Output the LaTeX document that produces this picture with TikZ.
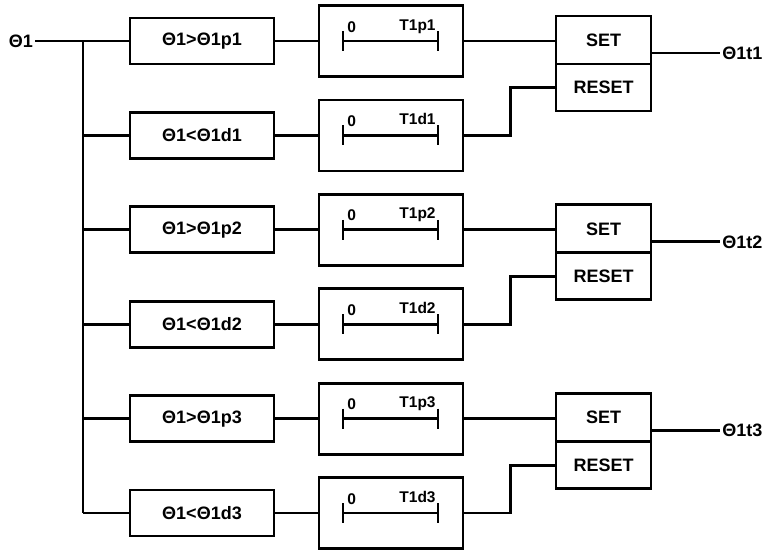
\documentclass[tikz,border=0pt]{standalone}
\usepackage{fontspec}
\setmainfont{Liberation Sans}
\usetikzlibrary{calc}
\begin{document}
\begin{tikzpicture}[x=1pt,y=-1pt,line width=2.8pt,
  lbl/.style={font=\fontsize{18}{18}\selectfont\bfseries},
  small/.style={font=\fontsize{15.5}{15.5}\selectfont\bfseries,inner sep=0pt},
  cmpbox/.style={draw,lbl,minimum width=144pt,minimum height=46pt,inner sep=0pt},
  tmrbox/.style={draw,minimum width=144pt,minimum height=71pt,inner sep=0pt},
  setbox/.style={draw,lbl,minimum width=95pt,minimum height=48pt,inner sep=0pt},
  resetbox/.style={draw,lbl,minimum width=95pt,minimum height=47pt,inner sep=0pt},
  outlbl/.style={lbl,anchor=west,inner sep=1pt}]
\useasboundingbox (0,0) rectangle (767,549);
\node[lbl,inner sep=1pt] (in) at (21,41) {Θ1};
\coordinate (t) at (83,41);
\coordinate (tb) at (83,513);
\foreach \k/\yp/\yd in {1/41/135.4, 2/229.8/324.2, 3/418.6/513} {
  \node[cmpbox] (cp\k) at (202,\yp) {Θ1>Θ1p\k};
  \node[cmpbox] (cd\k) at (202,\yd) {Θ1<Θ1d\k};
  \node[tmrbox] (tp\k) at (391,\yp) {};
  \node[tmrbox] (td\k) at (391,\yd) {};
  % timer internals
  \draw (343,{\yp-10}) -- (343,{\yp+10});
  \draw (438,{\yp-10}) -- (438,{\yp+10});
  \draw (343,\yp) -- (438,\yp);
  \node[small,anchor=base west] (zp\k) at (346,{\yp-9}) {0};
  \node[small,anchor=base east] (lp\k) at (437,{\yp-11}) {T1p\k};
  \draw (343,{\yd-10}) -- (343,{\yd+10});
  \draw (438,{\yd-10}) -- (438,{\yd+10});
  \draw (343,\yd) -- (438,\yd);
  \node[small,anchor=base west] (zd\k) at (346,{\yd-9}) {0};
  \node[small,anchor=base east] (ld\k) at (437,{\yd-11}) {T1d\k};
  % set/reset
  \node[setbox] (set\k) at (603.5,{\yp-1}) {SET};
  \node[resetbox] (reset\k) at (603.5,{\yp+46.5}) {RESET};
  \node[outlbl] (out\k) at (720,{\yp+12}) {Θ1t\k};
  % connectors
  \draw (cp\k.east) -- (tp\k.west);
  \draw (cd\k.east) -- (td\k.west);
  \draw (tp\k.east) -- (tp\k.east -| set\k.west);
  \draw (td\k.east) -- ++(46,0) |- (reset\k.west);
  \draw (out\k.west -| set\k.east) -- (out\k.west);
  \draw (cd\k.west -| t) -- (cd\k.west);
}
\foreach \k in {2,3} { \draw (cp\k.west -| t) -- (cp\k.west); }
\draw (in.east) -- (cp1.west);
\draw (t) -- (tb);
\end{tikzpicture}
\end{document}
